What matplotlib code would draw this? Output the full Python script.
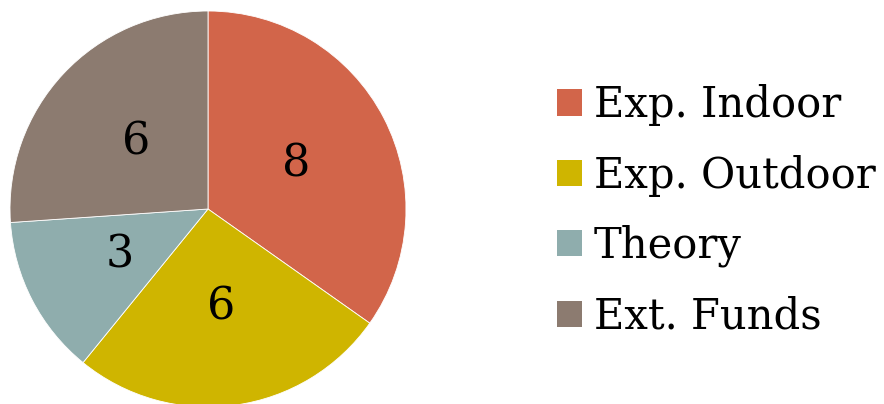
import matplotlib.pyplot as plt
from matplotlib.patches import Patch

categories = ['Exp. Indoor', 'Exp. Outdoor', 'Theory', 'Ext. Funds']
counts = [8, 6, 3, 6]
colors = ['#D2654A', '#CFB500', '#8FADAD', '#8C7B70']

plt.rcParams['font.family'] = ['DejaVu Serif']

fig = plt.figure(figsize=(8.84, 4.04), dpi=100)
# pie axes: centre at (208, 209) px, radius 198 px
ax = fig.add_axes([10 / 884, (404 - 209 - 198) / 404, 396 / 884, 396 / 404])

wedges, texts, autotexts = ax.pie(
    counts, colors=colors, startangle=90, counterclock=False,
    autopct=lambda p: '%d' % round(p * sum(counts) / 100),
    pctdistance=0.5, wedgeprops={'linewidth': 0.6, 'edgecolor': 'white'},
    textprops={'fontsize': 32, 'color': 'black'})
ax.set_xlim(-1, 1)
ax.set_ylim(-1, 1)
ax.set_aspect('equal')

handles = [Patch(facecolor=c, edgecolor='none') for c in colors]
fig.legend(handles, categories, loc='center left',
           bbox_to_anchor=(557 / 884, 1 - 211 / 404), frameon=False,
           fontsize=30, handlelength=0.6, handleheight=0.6,
           handletextpad=0.29, labelspacing=0.68,
           borderpad=0, borderaxespad=0)

fig.savefig('out.png', dpi=100)
